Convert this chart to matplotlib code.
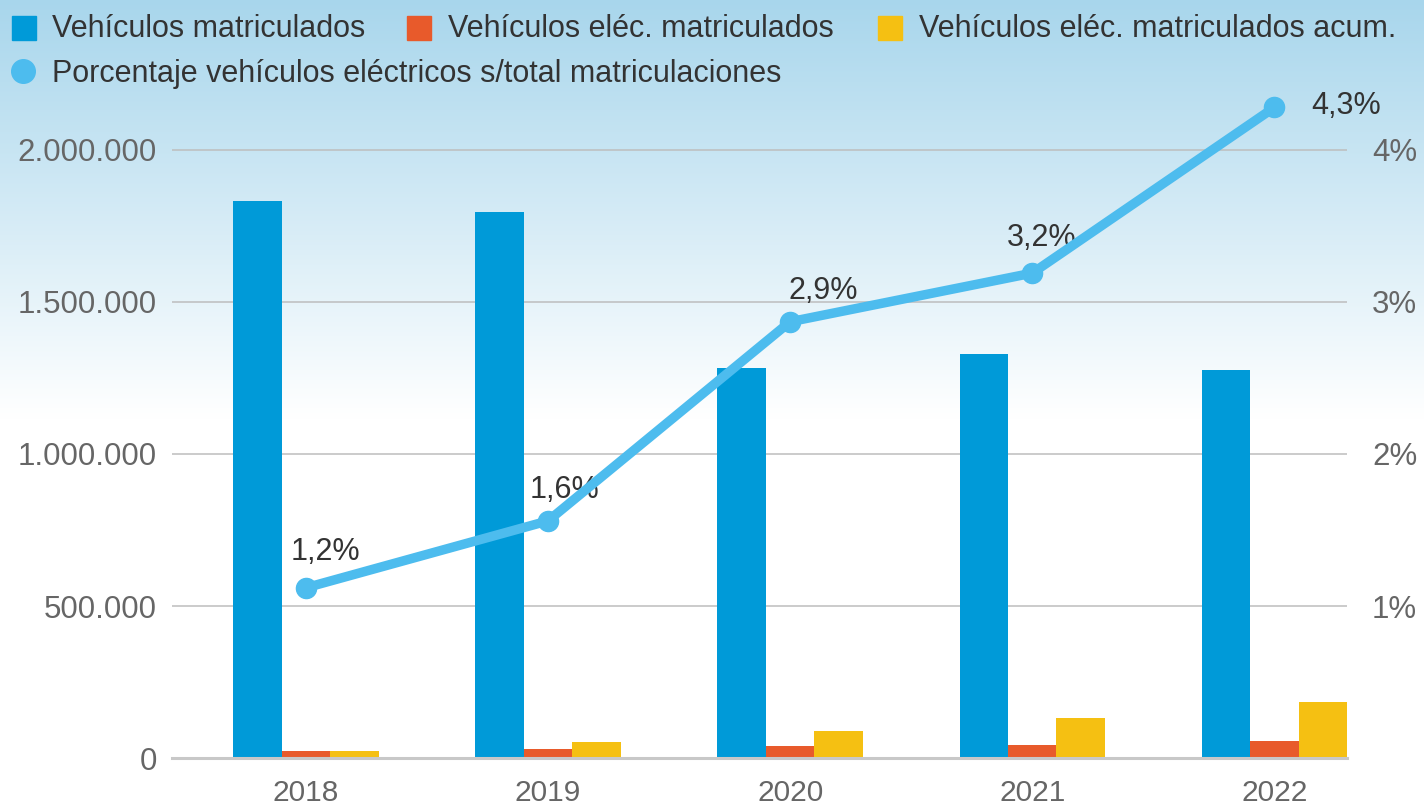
import matplotlib
matplotlib.use("Agg")
import matplotlib.pyplot as plt
import numpy as np
from matplotlib.patches import Rectangle

plt.rcParams['font.family'] = ['Liberation Sans', 'DejaVu Sans']

years = ["2018", "2019", "2020", "2021", "2022"]
matriculados = [1832000, 1796000, 1283000, 1329000, 1276000]
elec_matriculados = [23000, 29600, 40000, 42800, 56000]
elec_acum = [23000, 51600, 89000, 130600, 185000]
porcentaje = [1.12, 1.56, 2.87, 3.19, 4.28]
porcentaje_labels = ["1,2%", "1,6%", "2,9%", "3,2%", "4,3%"]
left_ticks = [0, 500000, 1000000, 1500000, 2000000]
left_ticklabels = ["0", "500.000", "1.000.000", "1.500.000", "2.000.000"]
right_ticks = [1, 2, 3, 4]
right_ticklabels = ["1%", "2%", "3%", "4%"]

legend_labels = ["Vehículos matriculados", "Vehículos eléc. matriculados",
                 "Vehículos eléc. matriculados acum.",
                 "Porcentaje vehículos eléctricos s/total matriculaciones"]

C_BLUE = "#009ad8"
C_ORANGE = "#e85a2b"
C_YELLOW = "#f5c012"
C_LINE = "#4dbcee"
C_TICK = "#666666"
C_TEXT = "#333333"

W, H = 1424, 805
fig = plt.figure(figsize=(W / 100, H / 100), dpi=100)

# background gradient
bg = fig.add_axes([0, 0, 1, 1], zorder=-10)
bg.set_axis_off()
ny = 400
yy = np.linspace(0, 1, ny)
top = np.array([168, 214, 236]) / 255.0
white = np.array([1.0, 1.0, 1.0])
t = np.clip(yy / 0.52, 0, 1)[:, None]
grad = top * (1 - t) + white * t
img = np.repeat(grad[:, None, :], 2, axis=1)
bg.imshow(img, aspect='auto', extent=[0, 1, 0, 1], origin='upper')
bg.set_xlim(0, 1)
bg.set_ylim(0, 1)

x0, x1 = 172 / W, 1347 / W
yb, yt = 758, 100
ax = fig.add_axes([x0, 1 - yb / H, x1 - x0, (yb - yt) / H])
ax.set_facecolor("none")
ymax_left = (yb - yt) / 304.0 * 1e6
ax.set_ylim(0, ymax_left)
ax.set_xlim(-0.553, 4.3)

x = np.arange(len(years))
bw = 0.2
ax.bar(x - bw, matriculados, bw, color=C_BLUE, zorder=3)
ax.bar(x, elec_matriculados, bw, color=C_ORANGE, zorder=3)
ax.bar(x + bw, elec_acum, bw, color=C_YELLOW, zorder=3)

ax.set_yticks(left_ticks)
ax.set_yticklabels(left_ticklabels)
ax.set_xticks(x)
ax.set_xticklabels(years)
ax.tick_params(axis='y', length=0, labelsize=22.5, labelcolor=C_TICK, pad=11)
ax.tick_params(axis='x', length=0, labelsize=21.5, labelcolor=C_TICK, pad=15)
for s in ["top", "right", "left"]:
    ax.spines[s].set_visible(False)
ax.spines["bottom"].set_color("#c8c8c8")
ax.spines["bottom"].set_linewidth(2.2)
ax.spines["bottom"].set_zorder(4)
ax.grid(axis='y', color="#bdbdbd", linewidth=1.1, zorder=0)
ax.set_axisbelow(True)

ax2 = ax.twinx()
ax2.set_ylim(0, (yb - yt) / 152.0)
ax2.set_yticks(right_ticks)
ax2.set_yticklabels(right_ticklabels)
ax2.tick_params(axis='y', length=0, labelsize=22.5, labelcolor=C_TICK, pad=18)
for s in ["top", "right", "left", "bottom"]:
    ax2.spines[s].set_visible(False)
ax2.plot(x, porcentaje, color=C_LINE, linewidth=6.8, marker='o', markersize=14.5,
         solid_capstyle='round', clip_on=False, zorder=5)
offsets = [(14, 26), (12, 22), (24, 22), (7, 25), (52, 1)]
for xi, v, lab, off in zip(x, porcentaje, porcentaje_labels, offsets):
    ax2.annotate(lab, (xi, v), xytext=off, textcoords='offset points',
                 ha='center', va='center', fontsize=22, color=C_TEXT,
                 annotation_clip=False)

# manual legend
def sq(xp, yp, color):
    fig.patches.append(Rectangle((xp / W, 1 - (yp + 24) / H), 24 / W, 24 / H,
                                 transform=fig.transFigure, color=color, zorder=5))

fs_leg = 22
sq(12, 16, C_BLUE)
fig.text(52 / W, 1 - 37 / H, legend_labels[0], fontsize=fs_leg, color=C_TEXT, va='baseline', ha='left')
sq(407, 16, C_ORANGE)
fig.text(448 / W, 1 - 37 / H, legend_labels[1], fontsize=fs_leg, color=C_TEXT, va='baseline', ha='left')
sq(878, 16, C_YELLOW)
fig.text(919 / W, 1 - 37 / H, legend_labels[2], fontsize=fs_leg, color=C_TEXT, va='baseline', ha='left')
fig.lines.append(plt.Line2D([23 / W], [1 - 71.5 / H], marker='o', markersize=17,
                            color=C_LINE, transform=fig.transFigure, linestyle='none'))
fig.text(52 / W, 1 - 82 / H, legend_labels[3], fontsize=fs_leg, color=C_TEXT, va='baseline', ha='left')

fig.savefig("out.png", dpi=100)
